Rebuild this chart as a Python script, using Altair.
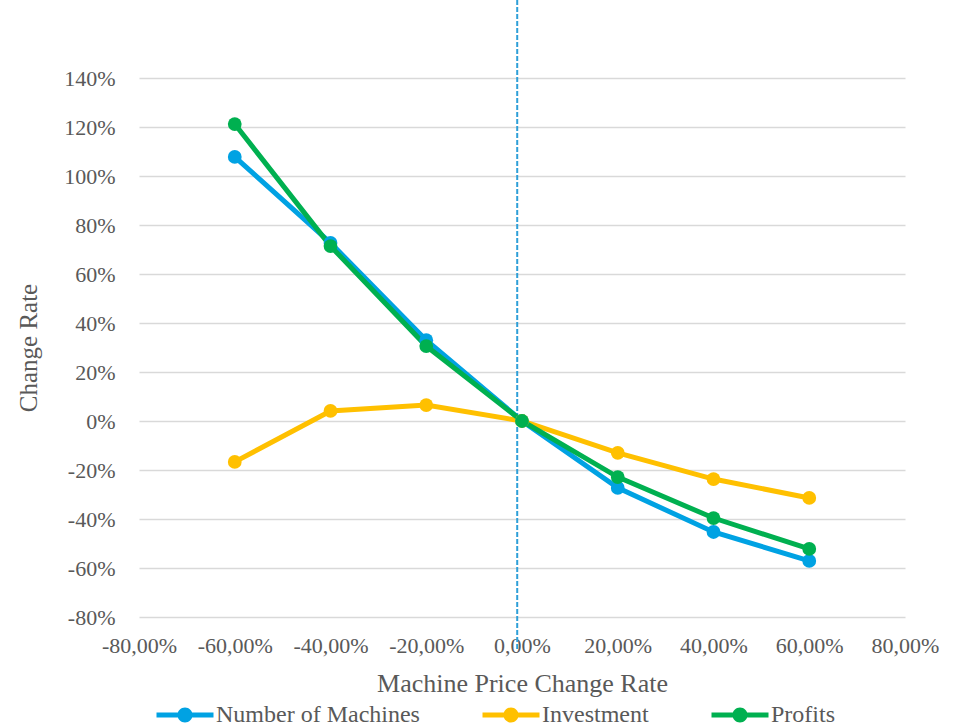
import altair as alt
import pandas as pd

# Machine price change rate (x) and the resulting change rates per series
price_change = [-0.60, -0.40, -0.20, 0.00, 0.20, 0.40, 0.60]
machines = [1.078, 0.727, 0.330, 0.000, -0.273, -0.453, -0.571]
investment = [-0.167, 0.041, 0.065, 0.000, -0.130, -0.237, -0.314]
profits = [1.212, 0.714, 0.306, 0.000, -0.229, -0.396, -0.522]

series_names = ["Number of Machines", "Investment", "Profits"]
series_colors = ["#00A2E3", "#FFC000", "#00B050"]

x_ticks = [-0.8, -0.6, -0.4, -0.2, 0.0, 0.2, 0.4, 0.6, 0.8]
y_ticks = [-0.8, -0.6, -0.4, -0.2, 0.0, 0.2, 0.4, 0.6, 0.8, 1.0, 1.2, 1.4]

# vertical reference line near zero price change
ref_x = [-0.01]

rows = []
for name, vals in zip(series_names, [machines, investment, profits]):
    for x, y in zip(price_change, vals):
        rows.append({"price": x, "rate": y, "series": name})
df = pd.DataFrame(rows)

FONT = "Liberation Serif"
TXT = "#595959"

# legend glyph: a short thick line with a dot in the middle
legend_glyph = (
    "M-3.8,-0.33L3.8,-0.33L3.8,0.33L-3.8,0.33Z "
    "M-1,0A1,1 0 1,1 1,0A1,1 0 1,1 -1,0Z"
)

x_scale = alt.Scale(domain=[-0.8, 0.8], nice=False, zero=False)
y_scale = alt.Scale(domain=[-0.8, 1.4], nice=False, zero=False)
color_scale = alt.Scale(domain=series_names, range=series_colors)

x_enc = alt.X(
    "price:Q",
    scale=x_scale,
    axis=alt.Axis(
        title="Machine Price Change Rate",
        values=x_ticks,
        labelExpr="replace(replace(format(datum.value, '.2%'), '.', ','), '\u2212', '-')",
        labelOverlap=False,
        labelFlush=False,
        grid=False,
        domain=False,
        ticks=False,
        labelPadding=18,
        titleFontSize=26,
        titlePadding=14,
    ),
)
y_enc = alt.Y(
    "rate:Q",
    scale=y_scale,
    axis=alt.Axis(
        title="Change Rate",
        values=y_ticks,
        labelExpr="replace(format(datum.value, '.0%'), '\u2212', '-')",
        labelOverlap=False,
        labelFlush=False,
        grid=True,
        gridColor="#D9D9D9",
        gridWidth=1.5,
        domain=False,
        ticks=False,
        labelPadding=24,
        titleFontSize=25,
        titlePadding=22,
    ),
)
color_enc = alt.Color(
    "series:N",
    scale=color_scale,
    sort=series_names,
    legend=alt.Legend(
        title=None,
        orient="none",
        direction="horizontal",
        legendX=34,
        legendY=625,
        symbolType=legend_glyph,
        symbolSize=225,
        symbolStrokeWidth=0,
        symbolOpacity=1,
        labelOffset=19,
        labelLimit=0,
        columnPadding=62,
        padding=0,
    ),
)

base = alt.Chart(df)

lines = base.mark_line(strokeWidth=5).encode(
    x=x_enc, y=y_enc, color=color_enc, detail="series:N"
)
points = base.mark_point(filled=True, size=190, opacity=1).encode(
    x="price:Q", y="rate:Q", color=alt.Color("series:N", scale=color_scale, sort=series_names)
)

rule = (
    alt.Chart(pd.DataFrame({"x": ref_x}))
    .mark_rule(color="#2E9FD8", strokeWidth=2, strokeDash=[5, 2], clip=False)
    .encode(x=alt.X("x:Q", scale=x_scale), y=alt.value(-78), y2=alt.value(572))
)

chart = (
    alt.layer(rule, lines, points)
    .properties(
        width=766,
        height=539,
        padding={"left": 139, "top": 78, "right": 48, "bottom": 110},
        autosize=alt.AutoSizeParams(type="none"),
        background="white",
    )
    .configure_view(stroke=None)
    .configure_axis(
        labelFont=FONT,
        labelFontSize=22,
        labelColor=TXT,
        titleFont=FONT,
        titleFontWeight="normal",
        titleColor=TXT,
    )
    .configure_legend(
        labelFont=FONT,
        labelFontSize=24,
        labelColor=TXT,
    )
)

chart.save("out.html", embed_options={"renderer": "svg", "actions": False})
